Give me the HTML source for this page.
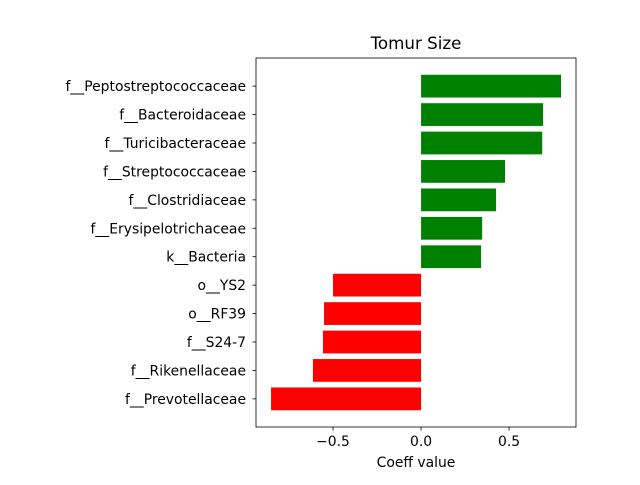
<!DOCTYPE html>
<html><head><meta charset="utf-8"><style>
body{margin:0;background:#fff;}
svg text{font-family:"DejaVu Sans","Liberation Sans",sans-serif;}
</style></head><body>
<svg id="chart" width="640" height="480" xmlns="http://www.w3.org/2000/svg">
<rect width="640" height="480" fill="#fff"/>
<g id="bars"></g>
<g id="axes"></g>
</svg>
<script>
const categories=["f__Peptostreptococcaceae","f__Bacteroidaceae","f__Turicibacteraceae","f__Streptococcaceae","f__Clostridiaceae","f__Erysipelotrichaceae","k__Bacteria","o__YS2","o__RF39","f__S24-7","f__Rikenellaceae","f__Prevotellaceae"];
const values=[0.795,0.693,0.688,0.477,0.426,0.347,0.341,-0.50,-0.551,-0.557,-0.614,-0.852];
const xTicks=[-0.5,0.0,0.5];
const xTickLabels=["−0.5","0.0","0.5"];
const NS="http://www.w3.org/2000/svg";
const L=256,R=576,T=58,B=427;
const xmin=-0.9375,xmax=0.88;
const n=categories.length;
const ymin=-0.99,ymax=n-1+0.99;
function xs(v){return L+(v-xmin)/(xmax-xmin)*(R-L);}
function ys(i){return T+(i-ymin)/(ymax-ymin)*(B-T);}
function mk(tag,attrs,parent){const e=document.createElementNS(NS,tag);for(const k in attrs)e.setAttribute(k,attrs[k]);parent.appendChild(e);return e;}
const bars=document.getElementById('bars'),axes=document.getElementById('axes');
const bh=(ys(0.4)-ys(-0.4));
values.forEach((v,i)=>{
  const x0=xs(Math.min(0,v)),x1=xs(Math.max(0,v));
  const r=mk('rect',{x:x0,y:ys(i)-bh/2,width:x1-x0,height:bh,fill:v>=0?'#008000':'#ff0000'},bars);
  
  
  mk('line',{x1:L,x2:L-3.5,y1:ys(i),y2:ys(i),stroke:'#000','stroke-width':0.8},axes);
  const t=mk('text',{x:L-10,y:ys(i)+5,'font-size':13.9,'text-anchor':'end',fill:'#000'},axes);
  t.textContent=categories[i];
  
  
});
xTicks.forEach((v,k)=>{
  mk('line',{x1:xs(v),x2:xs(v),y1:B,y2:B+3.5,stroke:'#000','stroke-width':0.8},axes);
  const t=mk('text',{x:xs(v),y:B+19,'font-size':13.9,'text-anchor':'middle',fill:'#000'},axes);
  t.textContent=xTickLabels[k];
  
  
});
const fr=mk('rect',{x:L,y:T,width:R-L,height:B-T,fill:'none',stroke:'#000','stroke-width':0.8},axes);


const xl=mk('text',{x:(L+R)/2,y:467,'font-size':13.9,'text-anchor':'middle'},axes);
xl.textContent='Coeff value';


const ti=mk('text',{x:(L+R)/2,y:49,'font-size':16.7,'text-anchor':'middle'},axes);
ti.textContent='Tomur Size';


</script>
</body></html>
